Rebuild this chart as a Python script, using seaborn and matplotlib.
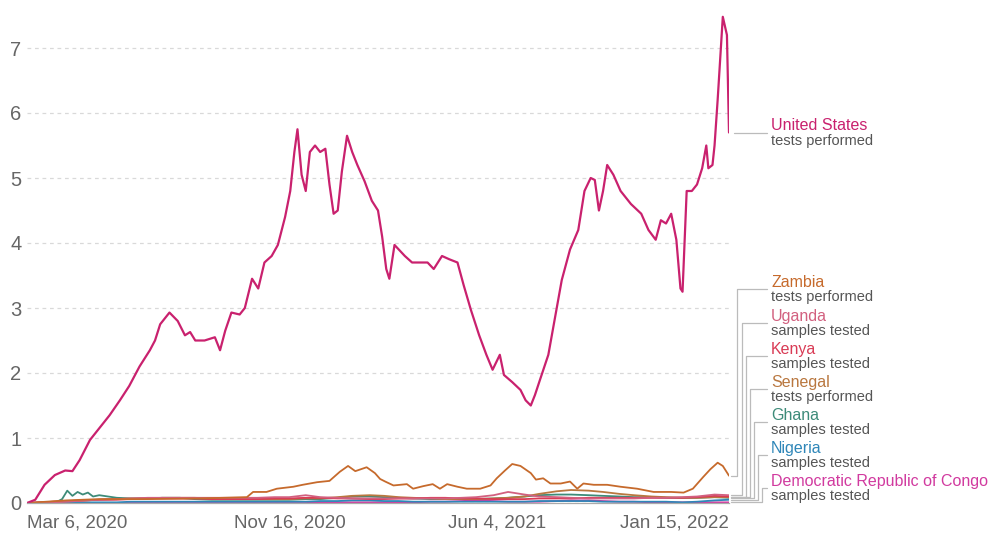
import matplotlib
matplotlib.use("Agg")
import matplotlib.pyplot as plt
import matplotlib.dates as mdates
from matplotlib.lines import Line2D
import pandas as pd
import seaborn as sns

# ---------------- data ----------------
us_dates = ["2020-03-06", "2020-03-14", "2020-03-23", "2020-04-02", "2020-04-12", "2020-04-19",
            "2020-04-26", "2020-05-06", "2020-05-15", "2020-05-25", "2020-06-04", "2020-06-13",
            "2020-06-23", "2020-07-03", "2020-07-08", "2020-07-13", "2020-07-22", "2020-07-30",
            "2020-08-06", "2020-08-11", "2020-08-16", "2020-08-25", "2020-09-04", "2020-09-09",
            "2020-09-14", "2020-09-20", "2020-09-28", "2020-10-03", "2020-10-10", "2020-10-16",
            "2020-10-22", "2020-10-29", "2020-11-04", "2020-11-11", "2020-11-16", "2020-11-20",
            "2020-11-23", "2020-11-27", "2020-12-01", "2020-12-05", "2020-12-10", "2020-12-15",
            "2020-12-20", "2020-12-24", "2020-12-28", "2021-01-01", "2021-01-05", "2021-01-10",
            "2021-01-15", "2021-01-20", "2021-01-27", "2021-02-03", "2021-02-09", "2021-02-13",
            "2021-02-17", "2021-02-20", "2021-02-25", "2021-03-07", "2021-03-14", "2021-03-22",
            "2021-03-29", "2021-04-04", "2021-04-12", "2021-04-19", "2021-04-27", "2021-05-03",
            "2021-05-10", "2021-05-18", "2021-05-25", "2021-05-31", "2021-06-07", "2021-06-11",
            "2021-06-19", "2021-06-27", "2021-07-02", "2021-07-07", "2021-07-11", "2021-07-16",
            "2021-07-24", "2021-07-31", "2021-08-06", "2021-08-14", "2021-08-22", "2021-08-28",
            "2021-09-03", "2021-09-07", "2021-09-11", "2021-09-15", "2021-09-19", "2021-09-25",
            "2021-10-02", "2021-10-12", "2021-10-22", "2021-10-29", "2021-11-05", "2021-11-10",
            "2021-11-15", "2021-11-20", "2021-11-25", "2021-11-29", "2021-12-01", "2021-12-05",
            "2021-12-10", "2021-12-15", "2021-12-20", "2021-12-24", "2021-12-26", "2021-12-30",
            "2022-01-01", "2022-01-04", "2022-01-09", "2022-01-13", "2022-01-15"]
us_values = [0.0, 0.05, 0.28, 0.43, 0.5, 0.49,
             0.66, 0.97, 1.15, 1.35, 1.58, 1.8,
             2.1, 2.35, 2.5, 2.75, 2.93, 2.8,
             2.58, 2.63, 2.5, 2.5, 2.55, 2.35,
             2.65, 2.93, 2.9, 3.0, 3.45, 3.3,
             3.7, 3.8, 3.97, 4.4, 4.8, 5.4,
             5.75, 5.05, 4.8, 5.4, 5.5, 5.4,
             5.45, 4.9, 4.45, 4.5, 5.1, 5.65,
             5.4, 5.2, 4.95, 4.65, 4.5, 4.1,
             3.6, 3.45, 3.97, 3.8, 3.7, 3.7,
             3.7, 3.6, 3.8, 3.75, 3.7, 3.35,
             2.97, 2.58, 2.28, 2.05, 2.28, 1.97,
             1.86, 1.74, 1.58, 1.5, 1.66, 1.9,
             2.28, 2.9, 3.43, 3.9, 4.2, 4.8,
             5.0, 4.97, 4.5, 4.8, 5.2, 5.05,
             4.8, 4.6, 4.45, 4.2, 4.05, 4.35,
             4.3, 4.45, 4.05, 3.3, 3.25, 4.8,
             4.8, 4.9, 5.15, 5.5, 5.15, 5.2,
             5.5, 6.2, 7.48, 7.2, 5.7]

zambia_dates = ["2020-03-06", "2020-04-13", "2020-05-15", "2020-06-28", "2020-08-20", "2020-10-05",
                "2020-10-11", "2020-10-24", "2020-11-03", "2020-11-19", "2020-11-28", "2020-12-12",
                "2020-12-24", "2021-01-03", "2021-01-11", "2021-01-18", "2021-01-29", "2021-02-06",
                "2021-02-11", "2021-02-16", "2021-02-24", "2021-03-09", "2021-03-15", "2021-03-25",
                "2021-04-03", "2021-04-10", "2021-04-17", "2021-04-27", "2021-05-06", "2021-05-19",
                "2021-05-29", "2021-06-04", "2021-06-12", "2021-06-19", "2021-06-27", "2021-07-07",
                "2021-07-12", "2021-07-19", "2021-07-26", "2021-08-05", "2021-08-14", "2021-08-21",
                "2021-08-27", "2021-09-06", "2021-09-19", "2021-10-02", "2021-10-18", "2021-11-03",
                "2021-11-20", "2021-12-02", "2021-12-11", "2021-12-21", "2021-12-28", "2022-01-04",
                "2022-01-09", "2022-01-15"]
zambia_values = [0.0, 0.04, 0.06, 0.06, 0.07, 0.09,
                 0.17, 0.17, 0.22, 0.25, 0.28, 0.32,
                 0.34, 0.48, 0.57, 0.49, 0.55, 0.46,
                 0.37, 0.33, 0.27, 0.29, 0.22, 0.26,
                 0.29, 0.22, 0.29, 0.25, 0.22, 0.22,
                 0.27, 0.38, 0.5, 0.6, 0.57, 0.46,
                 0.36, 0.38, 0.3, 0.3, 0.33, 0.22,
                 0.3, 0.28, 0.28, 0.25, 0.22, 0.17,
                 0.17, 0.16, 0.22, 0.4, 0.52, 0.62,
                 0.57, 0.42]

small_dates = ["2020-03-06", "2020-04-01", "2020-04-15", "2020-05-01", "2020-05-15", "2020-06-01",
               "2020-06-15", "2020-07-01", "2020-07-15", "2020-08-01", "2020-08-15", "2020-09-01",
               "2020-09-15", "2020-10-01", "2020-10-15", "2020-11-01", "2020-11-15", "2020-12-01",
               "2020-12-15", "2021-01-01", "2021-01-15", "2021-02-01", "2021-02-15", "2021-03-01",
               "2021-03-15", "2021-04-01", "2021-04-15", "2021-05-01", "2021-05-15", "2021-06-01",
               "2021-06-15", "2021-07-01", "2021-07-15", "2021-08-01", "2021-08-15", "2021-09-01",
               "2021-09-15", "2021-10-01", "2021-10-15", "2021-11-01", "2021-11-15", "2021-12-01",
               "2021-12-15", "2022-01-01", "2022-01-15"]
uganda_values = [0.0, 0.01, 0.02, 0.04, 0.05, 0.06, 0.07, 0.08, 0.08, 0.08, 0.08, 0.08,
                 0.08, 0.08, 0.08, 0.09, 0.09, 0.12, 0.09, 0.08, 0.07, 0.07, 0.07, 0.07,
                 0.07, 0.07, 0.07, 0.08, 0.09, 0.12, 0.17, 0.13, 0.1, 0.09, 0.08, 0.07,
                 0.07, 0.07, 0.07, 0.08, 0.08, 0.09, 0.1, 0.13, 0.12]
kenya_values = [0.0, 0.02, 0.03, 0.04, 0.05, 0.05, 0.06, 0.07, 0.07, 0.07, 0.07, 0.06,
                0.06, 0.06, 0.06, 0.07, 0.07, 0.08, 0.08, 0.07, 0.07, 0.06, 0.06, 0.07,
                0.07, 0.08, 0.08, 0.07, 0.07, 0.06, 0.06, 0.06, 0.07, 0.07, 0.07, 0.08,
                0.08, 0.08, 0.08, 0.08, 0.08, 0.08, 0.09, 0.11, 0.1]
senegal_values = [0.0, 0.02, 0.03, 0.04, 0.05, 0.06, 0.07, 0.07, 0.08, 0.08, 0.08, 0.07,
                  0.07, 0.06, 0.06, 0.06, 0.06, 0.07, 0.07, 0.09, 0.11, 0.12, 0.11, 0.09,
                  0.08, 0.07, 0.06, 0.06, 0.06, 0.07, 0.08, 0.1, 0.14, 0.18, 0.2, 0.19,
                  0.17, 0.14, 0.12, 0.1, 0.09, 0.08, 0.08, 0.09, 0.09]
ghana_dates = ["2020-03-06", "2020-04-03", "2020-04-09", "2020-04-14", "2020-04-19", "2020-04-24",
               "2020-04-29", "2020-05-04", "2020-05-09", "2020-05-15"] + small_dates[5:]
ghana_values = [0.0, 0.01, 0.06, 0.19, 0.11, 0.17, 0.13, 0.16, 0.1, 0.12,
                0.08, 0.07, 0.07, 0.08, 0.08, 0.06, 0.05,
                0.05, 0.05, 0.05, 0.05, 0.05, 0.06, 0.06, 0.08, 0.1, 0.1, 0.09, 0.08,
                0.07, 0.06, 0.06, 0.06, 0.06, 0.07, 0.08, 0.1, 0.12, 0.13, 0.13, 0.12,
                0.11, 0.1, 0.09, 0.09, 0.08, 0.08, 0.08, 0.09, 0.08]
nigeria_values = [0.0, 0.0, 0.01, 0.01, 0.01, 0.01, 0.02, 0.02, 0.02, 0.02, 0.02, 0.02,
                  0.02, 0.02, 0.02, 0.02, 0.02, 0.02, 0.03, 0.03, 0.04, 0.04, 0.03, 0.03,
                  0.02, 0.02, 0.02, 0.02, 0.02, 0.02, 0.02, 0.02, 0.03, 0.03, 0.03, 0.03,
                  0.02, 0.02, 0.02, 0.02, 0.02, 0.01, 0.02, 0.04, 0.05]
drc_values = [0.0, 0.0, 0.0, 0.0, 0.0, 0.0, 0.0, 0.0, 0.0, 0.0, 0.0, 0.0,
              0.0, 0.0, 0.0, 0.0, 0.0, 0.0, 0.01, 0.01, 0.01, 0.01, 0.01, 0.01,
              0.01, 0.02, 0.02, 0.03, 0.04, 0.03, 0.02, 0.02, 0.02, 0.03, 0.04, 0.04,
              0.03, 0.02, 0.02, 0.01, 0.01, 0.01, 0.01, 0.01, 0.01]

countries = ["United States", "Zambia", "Uganda", "Kenya", "Senegal", "Ghana", "Nigeria",
             "Democratic Republic of Congo"]
subtitles = ["tests performed", "tests performed", "samples tested", "samples tested",
             "tests performed", "samples tested", "samples tested", "samples tested"]
colors = ["#C9216E", "#C66A2C", "#D2607F", "#D93B55", "#B9773F", "#3D8B79", "#2E86B8", "#D13A9F"]

x_tick_dates = ["2020-03-06", "2020-11-16", "2021-06-04", "2022-01-15"]
x_tick_labels = ["Mar 6, 2020", "Nov 16, 2020", "Jun 4, 2021", "Jan 15, 2022"]
y_ticks = [0, 1, 2, 3, 4, 5, 6, 7]

# ---------------- build table ----------------
frames = []
def add(name, dates, vals):
    frames.append(pd.DataFrame({"date": pd.to_datetime(dates), "value": vals, "country": name}))

add("United States", us_dates, us_values)
add("Zambia", zambia_dates, zambia_values)
add("Uganda", small_dates, uganda_values)
add("Kenya", small_dates, kenya_values)
add("Senegal", small_dates, senegal_values)
add("Ghana", ghana_dates, ghana_values)
add("Nigeria", small_dates, nigeria_values)
add("Democratic Republic of Congo", small_dates, drc_values)
df = pd.concat(frames, ignore_index=True)

# ---------------- plot ----------------
sns.set_style("white")
plt.rcParams["font.family"] = ["Liberation Sans", "DejaVu Sans"]

W, H = 993, 533
fig = plt.figure(figsize=(W / 100, H / 100), dpi=100)
ax = fig.add_axes([27 / W, 1 - 503 / H, (729 - 27) / W, (503 - 9) / H])

palette = dict(zip(countries, colors))
draw_order = ["Democratic Republic of Congo", "Nigeria", "Ghana", "Senegal", "Kenya", "Uganda",
              "Zambia", "United States"]
for name in draw_order:
    sub = df[df["country"] == name]
    sns.lineplot(data=sub, x="date", y="value", ax=ax, color=palette[name],
                 linewidth=1.6 if name == "United States" else 1.3, legend=False,
                 estimator=None, sort=True)

ax.set_xlim(pd.Timestamp(x_tick_dates[0]), pd.Timestamp(x_tick_dates[-1]))
ax.set_ylim(0, 7.6)
ax.set_xlabel("")
ax.set_ylabel("")

ax.set_yticks(y_ticks)
ax.set_yticklabels([str(t) for t in y_ticks])
ax.yaxis.grid(True, color="#d9d9d9", linestyle=(0, (3, 3)), linewidth=0.9)
ax.set_axisbelow(True)
ax.tick_params(axis="y", length=0, pad=4, labelsize=14.5, labelcolor="#666666")

ax.set_xticks(pd.to_datetime(x_tick_dates))
ax.set_xticklabels(x_tick_labels)
ax.tick_params(axis="x", length=5, width=0.8, color="#aaaaaa", pad=3, labelsize=13.5,
               labelcolor="#666666")
labels = ax.get_xticklabels()
labels[0].set_ha("left")
labels[-1].set_ha("right")

for s in ["top", "right", "left"]:
    ax.spines[s].set_visible(False)
ax.spines["bottom"].set_color("#aaaaaa")
ax.spines["bottom"].set_linewidth(0.9)

# ---------------- right-hand labels ----------------
fig.canvas.draw()

def fig_xy(px, py):
    return px / W, 1 - py / H

def end_px(name):
    sub = df[df["country"] == name]
    last = sub.iloc[-1]
    dx, dy = ax.transData.transform((mdates.date2num(last["date"]), last["value"]))
    return dx, H - dy

line_kw = dict(color="#bbbbbb", linewidth=0.9, transform=fig.transFigure)

label_y = [133, 289, 323, 356, 389, 422, 455, 488]
elbow_x = [None, 737, 742, 746, 750, 754, 758, 762]

for i, name in enumerate(countries):
    ex, ey = end_px(name)
    ly = label_y[i]
    if elbow_x[i] is None:
        xs = [ex + 5, 767]
        ys = [ey, ey]
        ly = ey
    else:
        xs = [ex + 2, elbow_x[i], elbow_x[i], 767]
        ys = [ey, ey, ly, ly]
    fx = [x / W for x in xs]
    fy = [1 - y / H for y in ys]
    fig.add_artist(Line2D(fx, fy, **line_kw))
    tx, ty = fig_xy(771, ly - 6.5)
    fig.text(tx, ty, name, color=colors[i], fontsize=11.5, va="center", ha="left")
    tx, ty = fig_xy(771, ly + 8)
    fig.text(tx, ty, subtitles[i], color="#555555", fontsize=10.5, va="center", ha="left")

fig.savefig("out.png", dpi=100)
